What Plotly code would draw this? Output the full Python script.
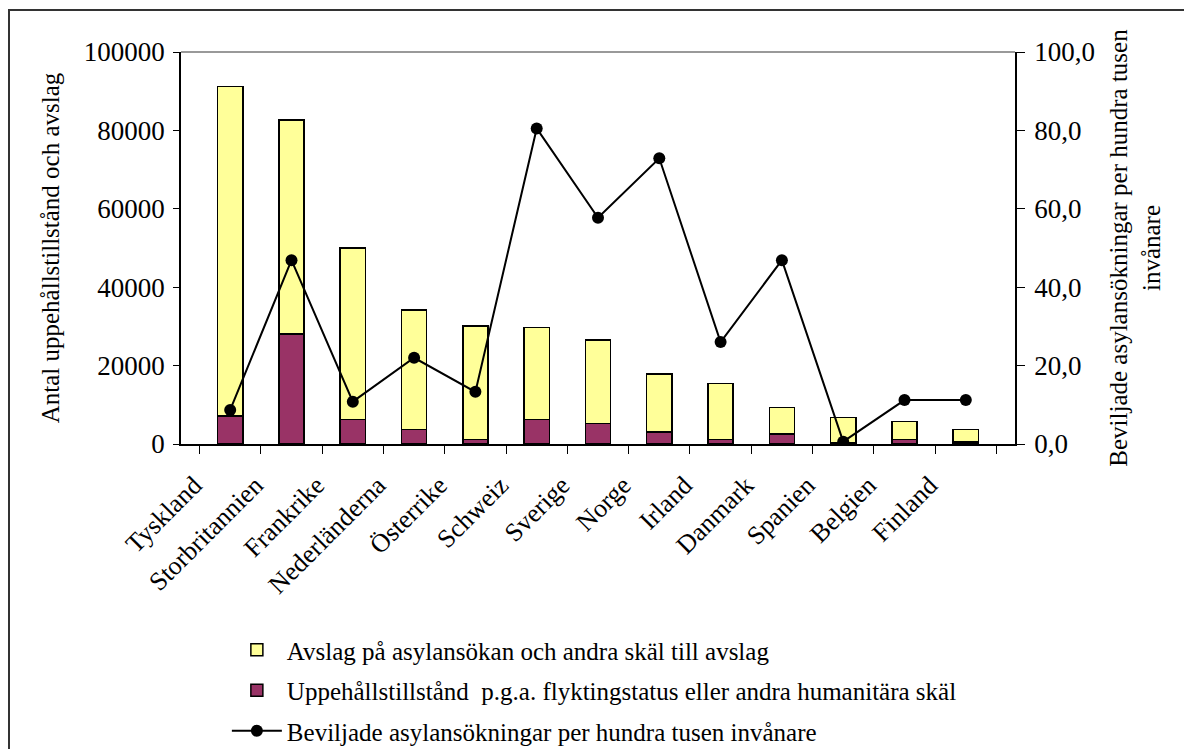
import plotly.graph_objects as go

countries = ["Tyskland", "Storbritannien", "Frankrike", "Nederländerna", "Österrike",
             "Schweiz", "Sverige", "Norge", "Irland", "Danmark", "Spanien", "Belgien", "Finland"]
total = [91200, 82600, 50000, 34200, 30100, 29700, 26500, 17900, 15400, 9300, 6700, 5700, 3700]
uppehall = [7100, 28100, 6200, 3700, 1100, 6200, 5200, 3100, 1100, 2600, 200, 1100, 500]
avslag = [t - u for t, u in zip(total, uppehall)]
beviljade = [8.7, 46.9, 10.8, 22.0, 13.3, 80.5, 57.7, 72.9, 26.0, 46.9, 0.6, 11.2, 11.2]

name_avslag = "Avslag på asylansökan och andra skäl till avslag"
name_upp = "Uppehållstillstånd  p.g.a. flyktingstatus eller andra humanitära skäl"
name_bev = "Beviljade asylansökningar per hundra tusen invånare"

FONT = "Liberation Serif"

# plot area in figure pixels (page has an 8px body margin)
L, R, T, B = 173, 1007, 44, 436
W, H = R - L, B - T

def px(x):
    return (x - L) / W

def py(y):
    return (B - y) / H

fig = go.Figure()
fig.add_trace(go.Bar(x=countries, y=uppehall, name=name_upp, legendrank=2, legendgroup="b",
                     marker=dict(color="#993366", line=dict(color="black", width=1.5))))
fig.add_trace(go.Bar(x=countries, y=avslag, name=name_avslag, legendrank=1, legendgroup="a",
                     marker=dict(color="#FFFF99", line=dict(color="black", width=1.5))))
fig.add_trace(go.Scatter(x=countries, y=beviljade, name=name_bev, yaxis="y2", legendrank=3,
                         legendgroup="c", mode="lines+markers",
                         line=dict(color="black", width=2),
                         marker=dict(color="black", size=12, symbol="circle")))

fig.update_layout(
    width=1192, height=749,
    paper_bgcolor="white", plot_bgcolor="white",
    font=dict(family=FONT, size=27, color="black"),
    margin=dict(l=L, r=1192 - R, t=T, b=749 - B, autoexpand=False),
    barmode="stack", bargap=0.59,
    xaxis=dict(showline=True, linecolor="black", linewidth=1.5, ticks="outside",
               tickson="boundaries", ticklen=8, tickcolor="black", tickangle=-45,
               tickfont=dict(family=FONT, size=26), showgrid=False, automargin=False,
               ticklabelstandoff=14, ticklabelshift=-36),
    yaxis=dict(range=[0, 100000], dtick=20000, showline=True, linecolor="black", linewidth=1.5,
               ticks="outside", ticklen=6, tickcolor="black", showgrid=False, zeroline=False,
               tickformat="d", automargin=False, tickfont=dict(family=FONT, size=27),
               ticklabelstandoff=3,
               title=dict(text="Antal uppehållstillstånd och avslag",
                          font=dict(family=FONT, size=25), standoff=17)),
    yaxis2=dict(range=[0, 100], dtick=20, overlaying="y", side="right", showline=True,
                linecolor="black", linewidth=1.5, ticks="outside", ticklen=8, tickcolor="black",
                showgrid=False, zeroline=False, tickformat=".1f", automargin=False,
                tickfont=dict(family=FONT, size=27), ticklabelstandoff=4,
                title=dict(text="Beviljade asylansökningar per hundra tusen<br>invånare",
                           font=dict(family=FONT, size=25), standoff=16)),
    yaxis3=dict(range=[0, 100], dtick=20, overlaying="y", side="right", anchor="x",
                showline=False, ticks="inside", ticklen=8, tickcolor="black",
                showticklabels=False, showgrid=False, zeroline=False, automargin=False),
    separators=",.",
    showlegend=True,
    legend=dict(x=0.055, y=py(619), xanchor="left", yanchor="top", orientation="v",
                font=dict(family=FONT, size=25), tracegroupgap=5, itemwidth=50,
                bgcolor="rgba(0,0,0,0)"),
    shapes=[
        dict(type="line", xref="paper", yref="paper", x0=0, x1=1, y0=1, y1=1,
             line=dict(color="#999999", width=2)),
        dict(type="rect", xref="paper", yref="paper",
             x0=px(1), x1=px(1250), y0=py(800), y1=py(2),
             line=dict(color="#333333", width=2)),
    ],
)

fig.write_html("out.html")
